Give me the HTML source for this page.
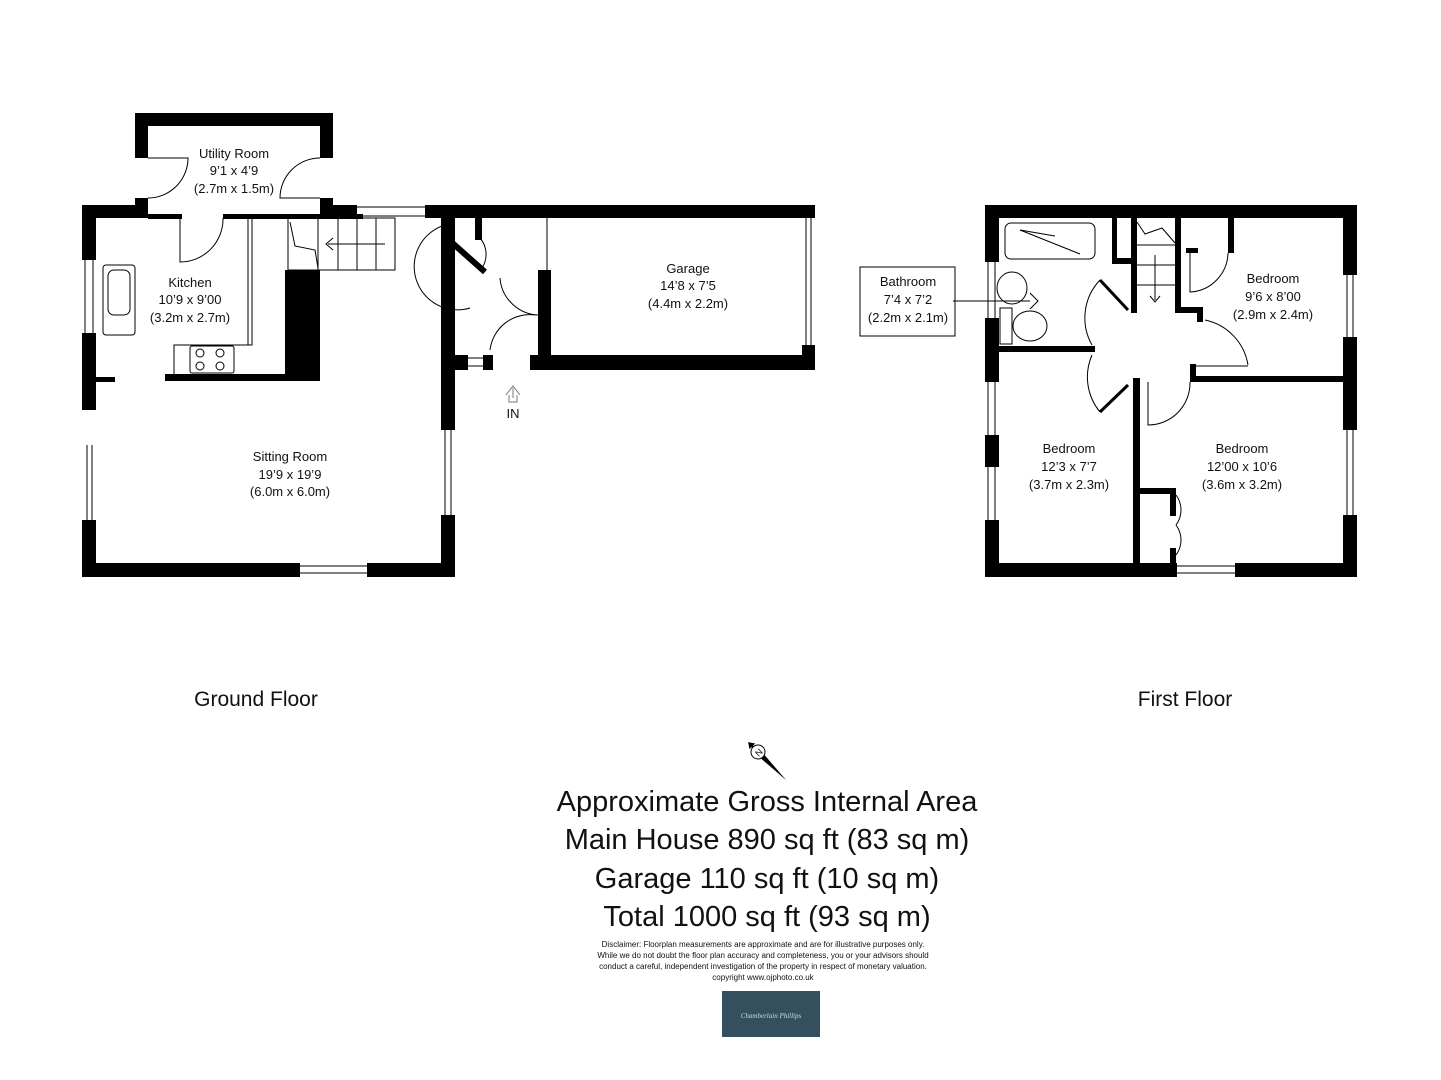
<!DOCTYPE html>
<html><head><meta charset="utf-8"><style>
html,body{margin:0;padding:0;background:#fff}
svg{display:block}
text{font-family:"Liberation Sans",sans-serif;fill:#111}
.s{font-size:13px}
</style></head><body>
<svg width="1441" height="1080" viewBox="0 0 1441 1080" xmlns="http://www.w3.org/2000/svg">
<g fill="#000">
<!-- Utility -->
<rect x="135" y="113" width="198" height="13"/>
<rect x="135" y="113" width="13" height="45"/>
<rect x="320" y="113" width="13" height="45"/>
<rect x="135" y="198" width="13" height="20"/>
<rect x="320" y="198" width="13" height="20"/>
<!-- top walls -->
<rect x="82" y="205" width="66" height="13"/>
<rect x="148" y="214" width="34" height="5"/>
<rect x="223" y="214" width="140" height="5"/>
<rect x="320" y="205" width="37" height="13"/>
<rect x="425" y="205" width="390" height="13"/>
<!-- sitting left -->
<rect x="82" y="205" width="14" height="55"/>
<rect x="82" y="333" width="14" height="77"/>
<rect x="96" y="377" width="19" height="5"/>
<rect x="82" y="520" width="14" height="57"/>
<!-- bottom -->
<rect x="82" y="563" width="218" height="14"/>
<rect x="367" y="563" width="88" height="14"/>
<!-- right of sitting/hall -->
<rect x="441" y="218" width="14" height="212"/>
<rect x="441" y="515" width="14" height="62"/>
<rect x="441" y="355" width="27" height="15"/>
<rect x="483" y="355" width="10" height="15"/>
<rect x="530" y="355" width="285" height="15"/>
<rect x="802" y="205" width="13" height="13"/>
<rect x="802" y="345" width="13" height="25"/>
<rect x="538" y="270" width="13" height="85"/>
<rect x="475" y="218" width="7" height="22"/>
<!-- kitchen -->
<rect x="165" y="374" width="120" height="7"/>
<rect x="285" y="270" width="35" height="111"/>
</g>
<g fill="none" stroke="#000" stroke-width="1">
<rect x="248" y="218" width="4" height="127"/>
<polyline points="252,345 174,345 174,376"/>
<rect x="103" y="265" width="32" height="70" rx="3"/>
<rect x="108" y="270" width="22" height="45" rx="6"/>
<rect x="190" y="346" width="44" height="27" rx="2"/>
<circle cx="200" cy="353" r="4"/><circle cx="220" cy="353" r="4"/><circle cx="200" cy="366" r="4"/><circle cx="220" cy="366" r="4"/>
<rect x="288" y="218" width="107" height="52"/>
<line x1="318" y1="218" x2="318" y2="270"/><line x1="338" y1="218" x2="338" y2="270"/><line x1="357" y1="218" x2="357" y2="270"/><line x1="376" y1="218" x2="376" y2="270"/>
<line x1="328" y1="244" x2="385" y2="244"/><polyline points="333,238 326,244 333,250"/>
<polyline points="290,222 295,246 315,250 318,268"/>
<!-- windows -->
<line x1="85" y1="260" x2="85" y2="333"/><line x1="93" y1="260" x2="93" y2="333"/>
<line x1="87" y1="445" x2="87" y2="520"/><line x1="92" y1="445" x2="92" y2="520"/>
<line x1="300" y1="566" x2="367" y2="566"/><line x1="300" y1="573" x2="367" y2="573"/>
<line x1="357" y1="207" x2="425" y2="207"/><line x1="357" y1="216" x2="425" y2="216"/>
<line x1="445" y1="430" x2="445" y2="515"/><line x1="451" y1="430" x2="451" y2="515"/>
<line x1="806" y1="218" x2="806" y2="345"/><line x1="811" y1="218" x2="811" y2="345"/>
<line x1="468" y1="358" x2="483" y2="358"/><line x1="468" y1="366" x2="483" y2="366"/>
<line x1="547" y1="218" x2="547" y2="270"/>
<!-- doors -->
<path d="M148,158 L188,158 A40,40 0 0 1 148,198"/>
<path d="M320,198 L280,198 A40,40 0 0 1 320,158"/>
<path d="M180,218 L180,262 A43,43 0 0 0 223,218"/>
<path d="M470,308 A40,40 0 0 1 445,225"/>
<path d="M500,278 A40,40 0 0 0 540,315"/>
<path d="M490,350 A40,40 0 0 1 535,315"/>
<path d="M480,238 A25,25 0 0 1 482,268"/>
<line x1="449" y1="240" x2="485" y2="272" stroke-width="6" stroke="#000"/>
<path d="M513,388 L513,398 M506,395 L513,386 L520,395 M509,395 L509,402 L517,402 L517,395" stroke="#777"/>
</g>
<!-- First floor -->
<g fill="#000">
<rect x="985" y="205" width="372" height="13"/>
<rect x="985" y="205" width="14" height="57"/>
<rect x="985" y="318" width="14" height="64"/>
<rect x="985" y="435" width="14" height="32"/>
<rect x="985" y="520" width="14" height="57"/>
<rect x="1343" y="205" width="14" height="70"/>
<rect x="1343" y="337" width="14" height="93"/>
<rect x="1343" y="515" width="14" height="62"/>
<rect x="985" y="563" width="192" height="14"/>
<rect x="1235" y="563" width="122" height="14"/>
<rect x="999" y="346" width="96" height="6"/>
<rect x="1133" y="378" width="7" height="199"/>
<rect x="1190" y="376" width="153" height="6"/>
<rect x="1190" y="364" width="6" height="18"/>
<rect x="1131" y="218" width="6" height="95"/>
<rect x="1175" y="218" width="6" height="95"/>
<rect x="1175" y="307" width="28" height="6"/>
<rect x="1197" y="307" width="6" height="15"/>
<rect x="1112" y="218" width="5" height="45"/>
<rect x="1112" y="258" width="20" height="6"/>
<rect x="1186" y="248" width="12" height="5"/>
<rect x="1228" y="218" width="6" height="35"/>
<rect x="1140" y="488" width="36" height="6"/>
<rect x="1170" y="488" width="6" height="28"/>
<rect x="1170" y="548" width="6" height="15"/>
</g>
<g fill="none" stroke="#000" stroke-width="1">
<rect x="1005" y="223" width="90" height="36" rx="6"/>
<line x1="1020" y1="230" x2="1080" y2="254"/><line x1="1020" y1="230" x2="1055" y2="236"/>
<ellipse cx="1012" cy="288" rx="15" ry="16"/>
<rect x="1000" y="308" width="12" height="36"/>
<ellipse cx="1030" cy="326" rx="17" ry="15"/>
<line x1="953" y1="301" x2="1030" y2="301"/><polyline points="1030,293 1038,301 1030,309"/>
<rect x="860" y="267" width="95" height="69"/>
<line x1="1137" y1="245" x2="1175" y2="245"/><line x1="1137" y1="265" x2="1175" y2="265"/><line x1="1137" y1="285" x2="1175" y2="285"/>
<line x1="1155" y1="255" x2="1155" y2="300"/><polyline points="1150,296 1155,302 1160,296"/>
<polyline points="1137,222 1145,234 1162,228 1175,243"/>
<path d="M1100,280 A55,55 0 0 0 1092,345"/>
<line x1="1100" y1="280" x2="1128" y2="310" stroke-width="3"/>
<path d="M1092,355 A55,55 0 0 0 1100,412"/>
<line x1="1100" y1="412" x2="1128" y2="385" stroke-width="3"/>
<path d="M1205,320 A55,55 0 0 1 1248,365"/>
<line x1="1196" y1="366" x2="1248" y2="366"/>
<path d="M1148,382 L1148,425 A42,42 0 0 0 1190,382"/>
<path d="M1190,253 L1190,292 A40,40 0 0 0 1228,253"/>
<path d="M1176,495 A25,25 0 0 1 1176,525 M1176,525 A25,25 0 0 1 1176,555"/>
<line x1="988" y1="262" x2="988" y2="318"/><line x1="995" y1="262" x2="995" y2="318"/>
<line x1="988" y1="382" x2="988" y2="435"/><line x1="995" y1="382" x2="995" y2="435"/>
<line x1="988" y1="467" x2="988" y2="520"/><line x1="995" y1="467" x2="995" y2="520"/>
<line x1="1347" y1="275" x2="1347" y2="337"/><line x1="1353" y1="275" x2="1353" y2="337"/>
<line x1="1347" y1="430" x2="1347" y2="515"/><line x1="1353" y1="430" x2="1353" y2="515"/>
<line x1="1177" y1="566" x2="1235" y2="566"/><line x1="1177" y1="573" x2="1235" y2="573"/>
</g>
<!-- compass -->
<g transform="translate(758,752) rotate(-45)">
<polygon points="0,-12 3,0 0,40 -3,0" fill="#000"/>
<polygon points="0,-14 -4,-8 4,-8" fill="#000"/>
<circle r="7" fill="#fff" stroke="#000"/>
<text x="-3" y="4" style="font-size:9px">N</text>
</g>
<g text-anchor="middle">
<text class="s" x="234" y="158">Utility Room</text>
<text class="s" x="234" y="175">9’1 x 4’9</text>
<text class="s" x="234" y="193">(2.7m x 1.5m)</text>
<text class="s" x="190" y="287">Kitchen</text>
<text class="s" x="190" y="304">10’9 x 9’00</text>
<text class="s" x="190" y="322">(3.2m x 2.7m)</text>
<text class="s" x="688" y="273">Garage</text>
<text class="s" x="688" y="290">14’8 x 7’5</text>
<text class="s" x="688" y="308">(4.4m x 2.2m)</text>
<text class="s" x="290" y="461">Sitting Room</text>
<text class="s" x="290" y="479">19’9 x 19’9</text>
<text class="s" x="290" y="496">(6.0m x 6.0m)</text>
<text class="s" x="513" y="418">IN</text>
<text class="s" x="908" y="286">Bathroom</text>
<text class="s" x="908" y="304">7’4 x 7’2</text>
<text class="s" x="908" y="322">(2.2m x 2.1m)</text>
<text class="s" x="1273" y="283">Bedroom</text>
<text class="s" x="1273" y="301">9’6 x 8’00</text>
<text class="s" x="1273" y="319">(2.9m x 2.4m)</text>
<text class="s" x="1069" y="453">Bedroom</text>
<text class="s" x="1069" y="471">12’3 x 7’7</text>
<text class="s" x="1069" y="489">(3.7m x 2.3m)</text>
<text class="s" x="1242" y="453">Bedroom</text>
<text class="s" x="1242" y="471">12’00 x 10’6</text>
<text class="s" x="1242" y="489">(3.6m x 3.2m)</text>
<text x="256" y="706" style="font-size:21px">Ground Floor</text>
<text x="1185" y="706" style="font-size:21px">First Floor</text>
<text x="767" y="811" style="font-size:29px">Approximate Gross Internal Area</text>
<text x="767" y="849" style="font-size:29px">Main House 890 sq ft (83 sq m)</text>
<text x="767" y="888" style="font-size:29px">Garage 110 sq ft (10 sq m)</text>
<text x="767" y="926" style="font-size:29px">Total 1000 sq ft (93 sq m)</text>
<text x="763" y="947" style="font-size:8px">Disclaimer: Floorplan measurements are approximate and are for illustrative purposes only.</text>
<text x="763" y="958" style="font-size:8px">While we do not doubt the floor plan accuracy and completeness, you or your advisors should</text>
<text x="763" y="969" style="font-size:8px">conduct a careful, independent investigation of the property in respect of monetary valuation.</text>
<text x="763" y="980" style="font-size:8px">copyright www.ojphoto.co.uk</text>
</g>
<rect x="722" y="991" width="98" height="46" fill="#34505e"/>
<text x="771" y="1018" text-anchor="middle" style="font-size:7px;fill:#cfd8dc;font-family:'Liberation Serif',serif;font-style:italic">Chamberlain Phillips</text>
</svg>
</body></html>
